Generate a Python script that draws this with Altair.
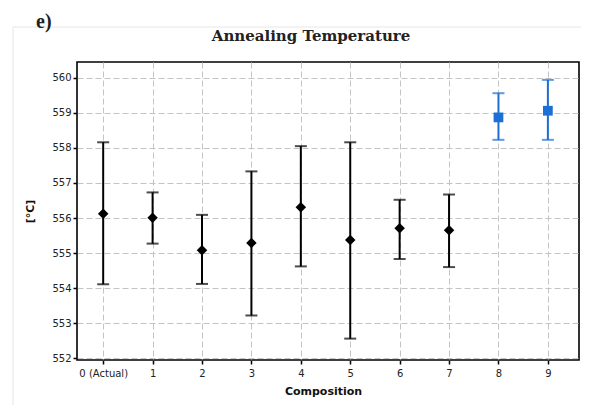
import altair as alt
import pandas as pd

compositions = [0, 1, 2, 3, 4, 5, 6, 7, 8, 9]
means = [556.12, 556.01, 555.08, 555.29, 556.31, 555.37, 555.71, 555.65, 558.87, 559.06]
uppers = [558.16, 556.73, 556.09, 557.33, 558.05, 558.16, 556.52, 556.67, 559.56, 559.94]
lowers = [554.11, 555.27, 554.12, 553.22, 554.62, 552.56, 554.83, 554.60, 558.23, 558.23]
groups = ["measured"] * 8 + ["predicted"] * 2

y_ticks = [552, 553, 554, 555, 556, 557, 558, 559, 560]

df = pd.DataFrame({
    "comp": compositions,
    "mean": means,
    "upper": uppers,
    "lower": lowers,
    "group": groups,
})

color_scale = alt.Scale(domain=["measured", "predicted"], range=["#000000", "#1c6fd3"])
shape_scale = alt.Scale(domain=["measured", "predicted"], range=["diamond", "square"])
size_scale = alt.Scale(domain=["measured", "predicted"], range=[110, 95])

x_axis = alt.Axis(
    values=compositions,
    labelExpr="datum.value == 0 ? '0 (Actual)' : datum.label",
    title="Composition",
    titleFont="DejaVu Sans",
    titleFontSize=11,
    titleFontWeight="bold",
    titleColor="#111111",
    titlePadding=7,
    titleX=246,
    labelFont="DejaVu Sans",
    labelFontSize=10,
    labelColor="#222222",
    labelPadding=4,
    labelOverlap=False,
    tickColor="#000000",
    tickSize=4,
    tickWidth=1.5,
    domain=False,
    grid=True,
    gridColor="#c4c4c4",
    gridDash=[6, 3],
    gridWidth=1,
)
x_scale = alt.Scale(domain=[-0.53, 9.63], nice=False, zero=False)

y_axis = alt.Axis(
    values=y_ticks,
    title="[°C]",
    titleFont="DejaVu Sans",
    titleFontSize=11,
    titleFontWeight="bold",
    titleColor="#111111",
    titlePadding=16,
    labelFont="DejaVu Sans",
    labelFontSize=10,
    labelColor="#222222",
    labelPadding=2,
    labelOverlap=False,
    tickColor="#000000",
    tickSize=4,
    tickWidth=1.5,
    domain=False,
    grid=True,
    gridColor="#c4c4c4",
    gridDash=[6, 3],
    gridWidth=1,
)
y_scale = alt.Scale(domain=[551.95, 560.45], nice=False, zero=False)

col = alt.Color("group:N", scale=color_scale, legend=None)


def X():
    return alt.X("comp:Q", scale=x_scale, axis=x_axis)


def Y(field):
    return alt.Y(field + ":Q", scale=y_scale, axis=y_axis)


base = alt.Chart(df)

bars = base.mark_rule(strokeWidth=2).encode(
    x=X(), y=Y("lower"), y2="upper:Q", color=col
)

caps_top = base.mark_tick(orient="horizontal", size=12, thickness=2).encode(
    x=X(), y=Y("upper"), color=col
)
caps_bot = base.mark_tick(orient="horizontal", size=12, thickness=2).encode(
    x=X(), y=Y("lower"), color=col
)

points = base.mark_point(filled=True, opacity=1).encode(
    x=X(),
    y=Y("mean"),
    color=col,
    shape=alt.Shape("group:N", scale=shape_scale, legend=None),
    size=alt.Size("group:N", scale=size_scale, legend=None),
)

frame = alt.Chart(pd.DataFrame({"k": [0]})).mark_rect(
    fill=None, stroke="#e6e6e6", strokeWidth=1
).encode(
    x=alt.value(-64), x2=alt.value(515), y=alt.value(-35), y2=alt.value(360)
)

label_e = alt.Chart(pd.DataFrame({"t": ["e)"]})).mark_text(
    font="Liberation Serif", fontSize=20, fontWeight="bold", align="left",
    baseline="middle", color="#222222"
).encode(text="t:N", x=alt.value(-41), y=alt.value(-40))

title_txt = alt.Chart(pd.DataFrame({"t": ["Annealing Temperature"]})).mark_text(
    font="DejaVu Serif", fontSize=15, fontWeight="bold", align="center",
    baseline="middle", color="#222222"
).encode(text="t:N", x=alt.value(234), y=alt.value(-26))

chart = alt.layer(frame, bars, caps_top, caps_bot, points, label_e, title_txt).properties(
    width=502,
    height=298,
    autosize=alt.AutoSizeParams(type="none"),
    padding={"left": 69, "top": 54, "right": 2, "bottom": 45},
).configure_view(
    stroke="#000000", strokeWidth=1.6
)

chart.save("out.html", embed_options={"renderer": "svg", "actions": False})
